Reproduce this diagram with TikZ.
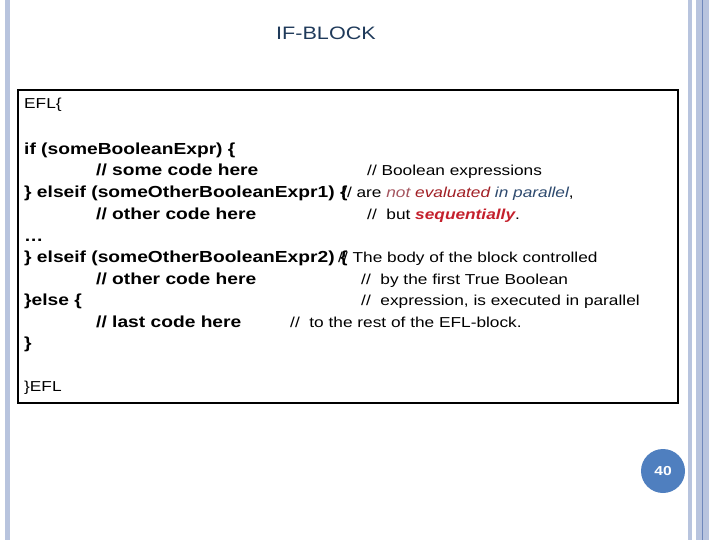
\documentclass[tikz,border=0pt]{standalone}
\usepackage{fontspec}
\setmainfont[FakeStretch=1.2]{Liberation Sans}
\definecolor{stripe}{HTML}{B8C4DE}
\definecolor{stripeD}{HTML}{6F88BC}
\definecolor{titleC}{HTML}{1F3A5A}
\definecolor{circ}{HTML}{4F7FBF}
\definecolor{rose}{HTML}{A4555F}
\definecolor{dred}{HTML}{A01E24}
\definecolor{dblue}{HTML}{2E4A6E}
\definecolor{sred}{HTML}{C4202C}
\begin{document}
\begin{tikzpicture}[x=1pt,y=-1pt,
  code/.style={anchor=base west,inner sep=0pt,font=\fontsize{16}{16}\selectfont\bfseries},
  cmt/.style={anchor=base west,inner sep=0pt,font=\fontsize{14.4}{15}\selectfont}]
\useasboundingbox (0,0) rectangle (720,540);
\fill[stripe] (5,0) rectangle (10,540);
\fill[stripe] (688,0) rectangle (692,540);
\fill[stripe] (696,0) rectangle (709,540);
\draw[stripeD,line width=1pt] (702.5,0) -- (702.5,540);
\node[inner sep=0pt,font=\fontsize{18}{18}\selectfont,text=titleC] (title) at (326,33) {IF-BLOCK};
\draw[line width=1.5pt] (18,90) rectangle (678,403);
\node[cmt] (l0) at (24,109) {EFL\{};
\node[code] (l1) at (24,155) {if (someBooleanExpr) \{};
\node[code] (l2) at (96,176) {// some code here};
\node[code] (l3) at (24,198) {\} elseif (someOtherBooleanExpr1) \{};
\node[code] (l4) at (96,219) {// other code here};
\node[code] (l5) at (24,241) {…};
\node[code] (l6) at (24,262) {\} elseif (someOtherBooleanExpr2) \{};
\node[code] (l7) at (96,284) {// other code here};
\node[code] (l8) at (24,305) {\}else \{};
\node[code] (l9) at (96,327) {// last code here};
\node[code] (l10) at (24,348) {\}};
\node[cmt] (l11) at (24,391) {\}EFL};
\node[cmt] (c1) at (367,176) {// Boolean expressions};
\node[cmt] (c2) at (342,198) {// are {\color{rose}\itshape not} {\color{dred}\itshape evaluated} {\color{dblue}\itshape in parallel},};
\node[cmt] (c3) at (367,219) {//\ \ but {\color{sred}\bfseries\itshape sequentially}.};
\node[cmt] (c4) at (338,262) {// The body of the block controlled};
\node[cmt] (c5) at (361,284) {//\ \ by the first True Boolean};
\node[cmt] (c6) at (361,305) {//\ \ expression, is executed in parallel};
\node[cmt] (c7) at (290,327) {//\ \ to the rest of the EFL-block.};
\node[circle,fill=circ,minimum size=44pt,inner sep=0pt,text=white,font=\fontsize{13}{13}\selectfont\bfseries] (pg) at (663,471) {40};
\end{tikzpicture}
\end{document}
